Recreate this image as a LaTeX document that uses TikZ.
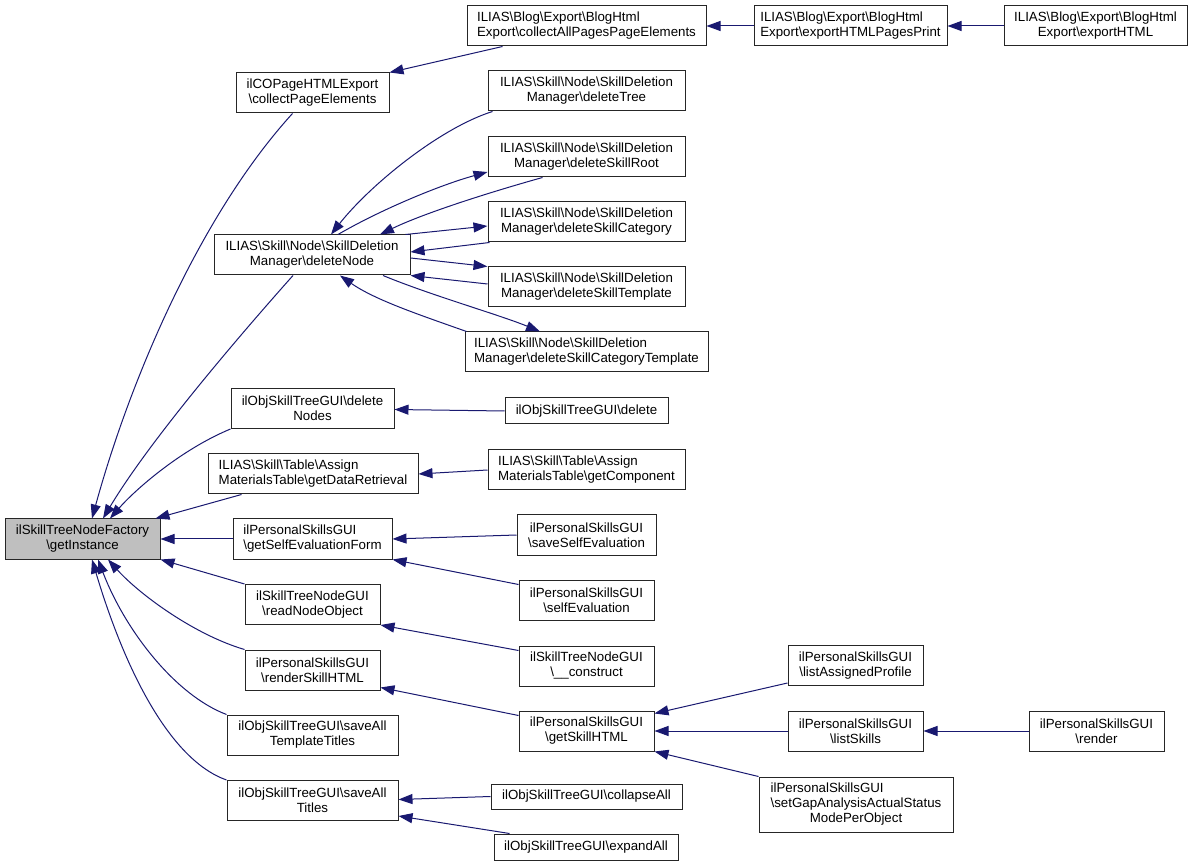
\documentclass[tikz,border=0pt]{standalone}
\usepackage{fontspec}
\setmainfont{Liberation Sans}
\usetikzlibrary{arrows.meta}
\definecolor{edgeblue}{HTML}{191970}
\definecolor{boxgray}{HTML}{BFBFBF}
\tikzset{
  box/.style={draw=black!85, line width=1pt, rectangle, inner sep=0pt, align=center,
    font=\fontsize{13.3}{15}\selectfont},
  lbox/.style={box, align=left},
  arr/.style={draw=edgeblue, line width=1pt, -{Triangle[length=14pt,width=10pt]}, color=edgeblue},
}
\begin{document}
\begin{tikzpicture}[x=1pt,y=-1pt]
\useasboundingbox (0,0) rectangle (1195,866);
% nodes
\node[box, fill=boxgray, minimum width=155, minimum height=40] (gi) at (82.5,539) {ilSkillTreeNodeFactory\\\textbackslash getInstance};
\node[box, minimum width=153, minimum height=40] (cpe) at (312.5,93) {ilCOPageHTMLExport\\\textbackslash collectPageElements};
\node[lbox, minimum width=239, minimum height=40] (capp) at (586.5,26) {ILIAS\textbackslash Blog\textbackslash Export\textbackslash BlogHtml\\Export\textbackslash collectAllPagesPageElements};
\node[lbox, minimum width=193, minimum height=40] (ehpp) at (850.5,26) {ILIAS\textbackslash Blog\textbackslash Export\textbackslash BlogHtml\\Export\textbackslash exportHTMLPagesPrint};
\node[box, minimum width=183, minimum height=40] (eh) at (1095.5,26) {ILIAS\textbackslash Blog\textbackslash Export\textbackslash BlogHtml\\Export\textbackslash exportHTML};
\node[box, minimum width=196, minimum height=40] (dn) at (312,255) {ILIAS\textbackslash Skill\textbackslash Node\textbackslash SkillDeletion\\Manager\textbackslash deleteNode};
\node[box, minimum width=197, minimum height=40] (dt) at (586.5,91) {ILIAS\textbackslash Skill\textbackslash Node\textbackslash SkillDeletion\\Manager\textbackslash deleteTree};
\node[box, minimum width=197, minimum height=40] (dsr) at (586.5,157) {ILIAS\textbackslash Skill\textbackslash Node\textbackslash SkillDeletion\\Manager\textbackslash deleteSkillRoot};
\node[box, minimum width=197, minimum height=40] (dsc) at (586.5,222) {ILIAS\textbackslash Skill\textbackslash Node\textbackslash SkillDeletion\\Manager\textbackslash deleteSkillCategory};
\node[box, minimum width=197, minimum height=40] (dst) at (586.5,287) {ILIAS\textbackslash Skill\textbackslash Node\textbackslash SkillDeletion\\Manager\textbackslash deleteSkillTemplate};
\node[lbox, minimum width=243, minimum height=40] (dsct) at (586.5,352) {ILIAS\textbackslash Skill\textbackslash Node\textbackslash SkillDeletion\\Manager\textbackslash deleteSkillCategoryTemplate};
\node[box, minimum width=163, minimum height=40] (dns) at (312.5,408.5) {ilObjSkillTreeGUI\textbackslash delete\\Nodes};
\node[box, minimum width=163, minimum height=26] (del) at (586.5,411) {ilObjSkillTreeGUI\textbackslash delete};
\node[lbox, minimum width=210, minimum height=40] (gdr) at (313,474) {ILIAS\textbackslash Skill\textbackslash Table\textbackslash Assign\\MaterialsTable\textbackslash getDataRetrieval};
\node[lbox, minimum width=197, minimum height=40] (gc) at (586.5,470) {ILIAS\textbackslash Skill\textbackslash Table\textbackslash Assign\\MaterialsTable\textbackslash getComponent};
\node[lbox, minimum width=159, minimum height=40] (gsef) at (312.5,539) {ilPersonalSkillsGUI\\\textbackslash getSelfEvaluationForm};
\node[box, minimum width=139, minimum height=40] (sse) at (586.5,535) {ilPersonalSkillsGUI\\\textbackslash saveSelfEvaluation};
\node[box, minimum width=135, minimum height=40] (se) at (586.5,600) {ilPersonalSkillsGUI\\\textbackslash selfEvaluation};
\node[box, minimum width=135, minimum height=40] (rno) at (312.5,604.5) {ilSkillTreeNodeGUI\\\textbackslash readNodeObject};
\node[box, minimum width=135, minimum height=40] (con) at (586.5,666) {ilSkillTreeNodeGUI\\\textbackslash \_\_construct};
\node[box, minimum width=135, minimum height=40] (rsh) at (312.5,670) {ilPersonalSkillsGUI\\\textbackslash renderSkillHTML};
\node[box, minimum width=135, minimum height=40] (gsh) at (586.5,731) {ilPersonalSkillsGUI\\\textbackslash getSkillHTML};
\node[box, minimum width=171, minimum height=40] (satt) at (312.5,735) {ilObjSkillTreeGUI\textbackslash saveAll\\TemplateTitles};
\node[box, minimum width=171, minimum height=40] (sat) at (312.5,800.5) {ilObjSkillTreeGUI\textbackslash saveAll\\Titles};
\node[box, minimum width=191, minimum height=25] (ca) at (586.5,796.5) {ilObjSkillTreeGUI\textbackslash collapseAll};
\node[box, minimum width=184, minimum height=26] (ea) at (586,847) {ilObjSkillTreeGUI\textbackslash expandAll};
\node[box, minimum width=135, minimum height=40] (lap) at (855.5,665.5) {ilPersonalSkillsGUI\\\textbackslash listAssignedProfile};
\node[box, minimum width=135, minimum height=40] (ls) at (855.5,731) {ilPersonalSkillsGUI\\\textbackslash listSkills};
\node[box, minimum width=135, minimum height=40] (ren) at (1096.5,731) {ilPersonalSkillsGUI\\\textbackslash render};
\node[box, minimum width=194, minimum height=55] (sga) at (856,804.5) {\begin{tabular}{@{}l@{}}ilPersonalSkillsGUI\\\textbackslash setGapAnalysisActualStatus\\\multicolumn{1}{@{}c@{}}{ModePerObject}\end{tabular}};
% edges
\draw[arr] ([xshift=36pt]capp.south west) -- (cpe.north east);
\draw[arr] (ehpp) -- (capp);
\draw[arr] (eh) -- (ehpp);
\draw[arr] ([xshift=-20pt]cpe.south) .. controls (200,215) and (130,380) .. ([xshift=9.5pt]gi.north);
\draw[arr] ([xshift=-19pt]dn.south) .. controls (240,335) and (150,440) .. ([xshift=20.5pt]gi.north);
\draw[arr] (dns.south west) .. controls (180,450) and (135,490) .. ([xshift=27.5pt]gi.north);
\draw[arr] ([xshift=34pt]gdr.south west) -- ([xshift=-5pt]gi.north east);
\draw[arr] (gsef) -- (gi);
\draw[arr] (rno.north west) -- (gi.south east);
\draw[arr] (rsh.north west) .. controls (195,635) and (140,595) .. ([xshift=25.5pt]gi.south);
\draw[arr] (satt.north west) .. controls (175,695) and (125,630) .. ([xshift=15.5pt]gi.south);
\draw[arr] (sat.north west) .. controls (170,760) and (125,670) .. ([xshift=9.5pt]gi.south);
% deleteNode cluster
\draw[arr] ([xshift=5pt]dt.south west) .. controls (440,128) and (370,185) .. ([xshift=19pt]dn.north);
\draw[arr] ([xshift=26pt]dn.north) .. controls (380,210) and (440,185) .. ([yshift=-15pt]dsr.west);
\draw[arr] ([xshift=55pt]dsr.south west) .. controls (480,195) and (420,215) .. ([xshift=68pt]dn.north);
\draw[arr] ([xshift=-5pt]dn.north east) -- ([yshift=-4pt]dsc.west);
\draw[arr] ([xshift=2pt]dsc.south west) -- ([yshift=3pt]dn.east);
\draw[arr] ([yshift=-3pt]dn.east) -- (dst.north west);
\draw[arr] ([yshift=3pt]dst.west) -- (dn.south east);
\draw[arr] ([xshift=71pt]dn.south) .. controls (430,295) and (500,315) .. ([xshift=-46.5pt]dsct.north);
\draw[arr] ([xshift=2pt]dsct.north west) .. controls (420,315) and (375,300) .. ([xshift=28pt]dn.south);
% right side
\draw[arr] (del.west) -- ([yshift=-1pt]dns.east);
\draw[arr] (gc.west) -- (gdr.east);
\draw[arr] (sse.west) -- (gsef.east);
\draw[arr] ([yshift=-5pt]se.north west) -- (gsef.south east);
\draw[arr] ([yshift=-5pt]con.north west) -- (rno.south east);
\draw[arr] ([yshift=-5pt]gsh.north west) -- ([yshift=3pt]rsh.south east);
\draw[arr] ([yshift=3pt]lap.south west) -- ([yshift=-3pt]gsh.north east);
\draw[arr] (ls) -- (gsh);
\draw[arr] (sga.north west) -- (gsh.south east);
\draw[arr] (ren) -- (ls);
\draw[arr] (ca.west) -- ([yshift=1pt]sat.east);
\draw[arr] ([xshift=16pt]ea.north west) -- ([yshift=5pt]sat.south east);
\end{tikzpicture}
\end{document}
